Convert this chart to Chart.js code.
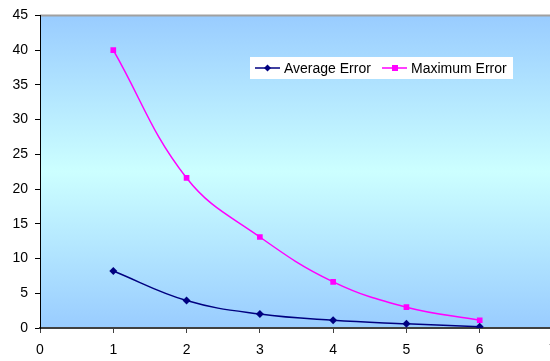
<!DOCTYPE html>
<html>
<head>
<meta charset="utf-8">
<script src="https://cdn.jsdelivr.net/npm/chart.js@4/dist/chart.umd.min.js"></script>
<style>
  html, body { margin: 0; padding: 0; background: #fff; overflow: hidden; }
  canvas { display: block; }
</style>
</head>
<body>
<canvas id="errChart" width="570" height="361"></canvas>
<script>
// values
const steps = [1, 2, 3, 4, 5, 6];
const averageError = [8.2, 3.95, 2.0, 1.1, 0.6, 0.18];
const maximumError = [40.0, 21.6, 13.1, 6.65, 3.0, 1.12];
const seriesNames = ['Average Error', 'Maximum Error'];
const seriesColors = ['#000080', '#FF00FF'];
const markers = ['rectRot', 'rect'];

const font = { family: 'Arial, "Liberation Sans", sans-serif', size: 14 };

// gradient plot background + top border line
const plotBackground = {
  id: 'plotBackground',
  beforeDraw(chart) {
    const { ctx, chartArea: a } = chart;
    const g = ctx.createLinearGradient(0, a.top, 0, a.bottom);
    g.addColorStop(0, '#99CCFF');
    g.addColorStop(0.5, '#CCFFFF');
    g.addColorStop(1, '#99CCFF');
    ctx.save();
    ctx.fillStyle = g;
    ctx.fillRect(a.left, a.top, a.right - a.left, a.bottom - a.top);
    ctx.strokeStyle = '#a0a0a0';
    ctx.lineWidth = 2;
    ctx.beginPath();
    ctx.moveTo(a.left, a.top);
    ctx.lineTo(a.right + 20, a.top);
    ctx.stroke();
    ctx.restore();
  }
};

// white legend box inside the plot, like the original
const boxLegend = {
  id: 'boxLegend',
  afterDraw(chart) {
    const ctx = chart.ctx;
    const x0 = 250, y0 = 57, w = 263, h = 22;
    ctx.save();
    ctx.fillStyle = '#fff';
    ctx.fillRect(x0, y0, w, h);
    ctx.font = '14px ' + font.family;
    ctx.textBaseline = 'middle';
    const cy = y0 + h / 2;
    const starts = [255, 382];
    chart.data.datasets.forEach((ds, i) => {
      const sx = starts[i];
      ctx.strokeStyle = ds.borderColor;
      ctx.lineWidth = 1.5;
      ctx.beginPath();
      ctx.moveTo(sx, cy);
      ctx.lineTo(sx + 25, cy);
      ctx.stroke();
      ctx.fillStyle = ds.borderColor;
      if (ds.pointStyle === 'rect') {
        ctx.fillRect(sx + 10, cy - 3, 6, 6);
      } else {
        ctx.beginPath();
        ctx.moveTo(sx + 12.5, cy - 3.5);
        ctx.lineTo(sx + 16, cy);
        ctx.lineTo(sx + 12.5, cy + 3.5);
        ctx.lineTo(sx + 9, cy);
        ctx.closePath();
        ctx.fill();
      }
      ctx.fillStyle = '#000';
      ctx.fillText(ds.label, sx + 29, cy + 1);
    });
    ctx.restore();
  }
};

const datasets = [averageError, maximumError].map((vals, i) => ({
  label: seriesNames[i],
  data: steps.map((s, j) => ({ x: s, y: vals[j] })),
  borderColor: seriesColors[i],
  backgroundColor: seriesColors[i],
  borderWidth: 1.5,
  pointStyle: markers[i],
  pointRadius: 4,
  pointBorderWidth: 0,
  tension: 0.4,
  fill: false
}));

new Chart(document.getElementById('errChart'), {
  type: 'line',
  data: { datasets },
  options: {
    responsive: false,
    animation: false,
    layout: { padding: { top: 14, right: 17, left: 0, bottom: 0 } },
    plugins: {
      legend: { display: false },
      tooltip: { enabled: false }
    },
    scales: {
      x: {
        type: 'linear',
        min: 0,
        max: 7,
        ticks: { stepSize: 1, color: '#000', font, padding: 9, maxRotation: 0 },
        grid: { drawOnChartArea: false, drawTicks: true, tickLength: 5, color: '#404040' },
        border: { color: '#404040', width: 2 },
        afterFit(scale) { scale.height = 33; }
      },
      y: {
        min: 0,
        max: 45,
        ticks: { stepSize: 5, color: '#000', font, padding: 7 },
        grid: { drawOnChartArea: false, drawTicks: true, tickLength: 5, color: '#000' },
        border: { color: '#000', width: 1 },
        afterFit(scale) { scale.width = 40; }
      }
    }
  },
  plugins: [plotBackground, boxLegend]
});
</script>
</body>
</html>
